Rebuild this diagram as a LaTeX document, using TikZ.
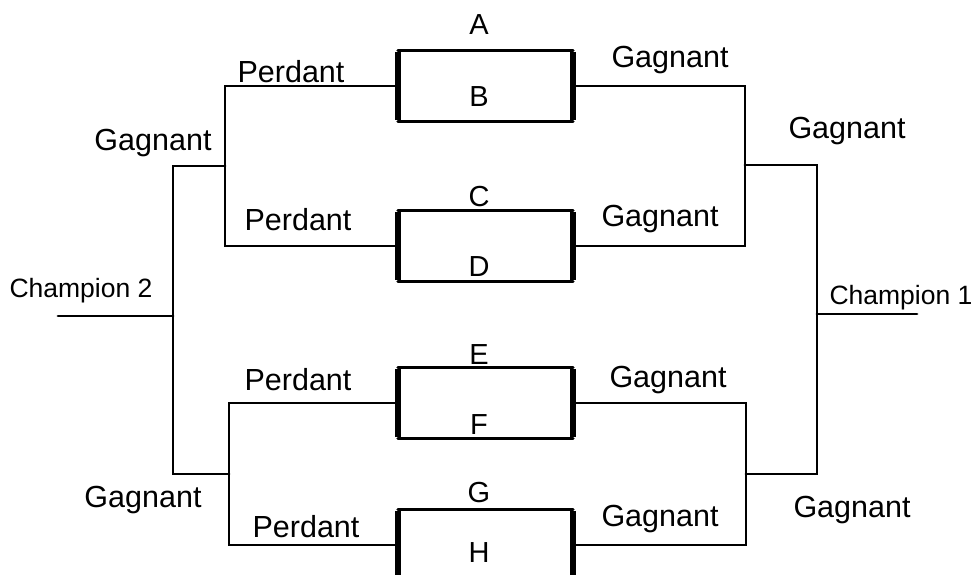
\documentclass[tikz,border=0pt]{standalone}
\usepackage{fontspec}
\setmainfont{Liberation Sans}
\begin{document}
\begin{tikzpicture}[x=1pt,y=-1pt,
  wire/.style={line width=2.8pt, line cap=round, line join=miter},
  boxside/.style={line width=5.5pt, line cap=butt},
  lbl/.style={font=\fontsize{30.5}{30.5}\selectfont, inner sep=0pt},
  letter/.style={font=\fontsize{29}{29}\selectfont, inner sep=0pt},
  champ/.style={font=\fontsize{26.5}{26.5}\selectfont, inner sep=0pt},
  match/.style={minimum width=175pt, minimum height=70pt, inner sep=0pt, draw=none}]
\useasboundingbox (0,0) rectangle (975,575);
\clip (0,0) rectangle (975,575);
% match boxes
\node[match] (ab) at (485.5,86) {};
\node[match] (cd) at (485.5,246) {};
\node[match] (ef) at (485.5,403) {};
\node[match] (gh) at (485.5,545) {};
\foreach \b in {ab,cd,ef,gh}{
  \draw[wire] (\b.north west) -- (\b.north east);
  \draw[wire] (\b.south west) -- (\b.south east);
  \draw[boxside] ([yshift=-1.5pt]\b.north west) -- ([yshift=1.5pt]\b.south west);
  \draw[boxside] ([yshift=-1.5pt]\b.north east) -- ([yshift=1.5pt]\b.south east);
}
% letters
\node[letter] (A) at (479,25) {A};
\node[letter] (B) at (479,97) {B};
\node[letter] (C) at (479,197) {C};
\node[letter] (D) at (479,267) {D};
\node[letter] (E) at (479,355) {E};
\node[letter] (F) at (479,425) {F};
\node[letter] (G) at (479,493) {G};
\node[letter] (H) at (479,553) {H};
% bracket coordinates left
\coordinate (l1) at (225,166);
\coordinate (l2) at (229,474);
\coordinate (lc) at (173,316);
\coordinate (c2end) at (58,316);
% right
\coordinate (r1) at (745,165);
\coordinate (r2) at (746,474);
\coordinate (rc) at (817,314);
\coordinate (c1end) at (917,314);
% left connectors
\draw[wire] (ab.west) -| (l1) |- (cd.west);
\draw[wire] (ef.west) -| (l2) |- (gh.west);
\draw[wire] (l1) -| (lc) |- (l2);
\draw[wire] (c2end) -- (lc);
% right connectors
\draw[wire] (ab.east) -| (r1) |- (cd.east);
\draw[wire] (ef.east) -| (r2) |- (gh.east);
\draw[wire] (r1) -| (rc) |- (r2);
\draw[wire] (rc) -- (c1end);
% labels
\node[lbl] (p1) at (291,72) {Perdant};
\node[lbl] (g1) at (670,60) {Gagnant};
\node[lbl] (gl1) at (153,143) {Gagnant};
\node[lbl] (gr1) at (847,131) {Gagnant};
\node[lbl] (p2) at (298,220) {Perdant};
\node[lbl] (g2) at (660,219) {Gagnant};
\node[champ] (ch2) at (81,291) {Champion 2};
\node[champ] (ch1) at (901,298) {Champion 1};
\node[lbl] (p3) at (298,380) {Perdant};
\node[lbl] (g3) at (668,380) {Gagnant};
\node[lbl] (gl2) at (143,500) {Gagnant};
\node[lbl] (p4) at (306,527) {Perdant};
\node[lbl] (g4) at (660,519) {Gagnant};
\node[lbl] (gr2) at (852,510) {Gagnant};
\end{tikzpicture}
\end{document}
